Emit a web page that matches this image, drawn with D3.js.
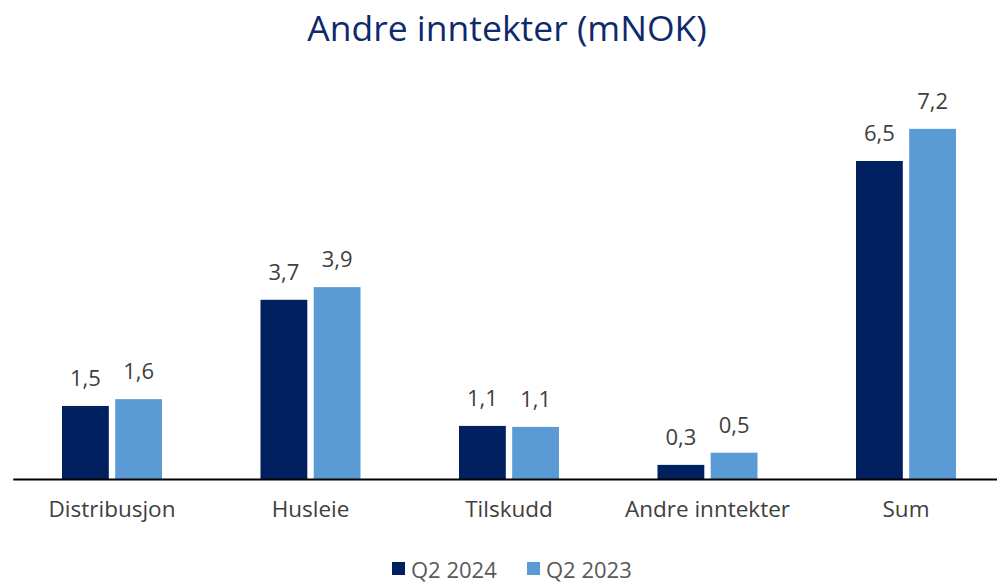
<!DOCTYPE html>
<html><head><meta charset="utf-8">
<script src="https://cdn.jsdelivr.net/npm/d3@7"></script>
<style>body{margin:0;background:#fff;} svg{display:block;font-family:"Open Sans",sans-serif;}</style>
</head><body>
<script>
const categories = ["Distribusjon","Husleie","Tilskudd","Andre inntekter","Sum"];
const seriesNames = ["Q2 2024","Q2 2023"];
const q2_2024 = [1.50, 3.68, 1.09, 0.29, 6.53];
const q2_2023 = [1.64, 3.94, 1.07, 0.54, 7.19];
const colors = ["#002060","#5B9BD5"];
const title = "Andre inntekter (mNOK)";

const W = 997, H = 583;
const svg = d3.select("body").append("svg").attr("width", W).attr("height", H);

const baseY = 479;
const x = d3.scaleBand().domain(categories).range([12.75, 1005.25]).paddingInner(0).paddingOuter(0);
const xs = d3.scaleBand().domain(seriesNames).range([0, 100]).paddingInner(0.12);
const y = d3.scaleLinear().domain([0, 8]).range([baseY, baseY - 8*48.7]);

const fmt = v => d3.format(".1f")(v).replace(".", ",");

svg.append("text").attr("x", 507).attr("y", 41).attr("text-anchor","middle")
  .attr("fill","#0E2A6B").attr("font-size", 35.5).text(title);

const data = [q2_2024, q2_2023];
data.forEach((vals, si) => {
  const g = svg.append("g");
  g.selectAll("rect").data(vals).join("rect")
    .attr("x", (d,i) => x(categories[i]) + x.bandwidth()/2 - 50 + xs(seriesNames[si]))
    .attr("width", xs.bandwidth())
    .attr("y", d => y(d))
    .attr("height", d => y(0) - y(d))
    .attr("fill", colors[si]);
  g.selectAll("text").data(vals).join("text")
    .attr("x", (d,i) => x(categories[i]) + x.bandwidth()/2 - 50 + xs(seriesNames[si]) + xs.bandwidth()/2)
    .attr("y", d => y(d) - 20)
    .attr("text-anchor","middle").attr("fill","#404040").attr("font-size", 22)
    .text(d => fmt(d));
});

// axis
const axis = d3.axisBottom(x).tickSize(0).tickPadding(22);
const ag = svg.append("g").attr("transform", `translate(0,${baseY})`).call(axis);
ag.select(".domain").attr("stroke","#000").attr("stroke-width",2.2);
ag.selectAll("text").attr("font-size", 22.5).attr("fill","#404040").attr("font-family","'Open Sans',sans-serif");

// legend
const leg = svg.append("g");
const legX = [392, 527];
seriesNames.forEach((n, i) => {
  leg.append("rect").attr("x", legX[i]).attr("y", 562).attr("width", 13).attr("height", 13).attr("fill", colors[i]);
  leg.append("text").attr("x", legX[i] + 19).attr("y", 578).attr("font-size", 22).attr("fill","#595959").text(n);
});
</script>
</body></html>
